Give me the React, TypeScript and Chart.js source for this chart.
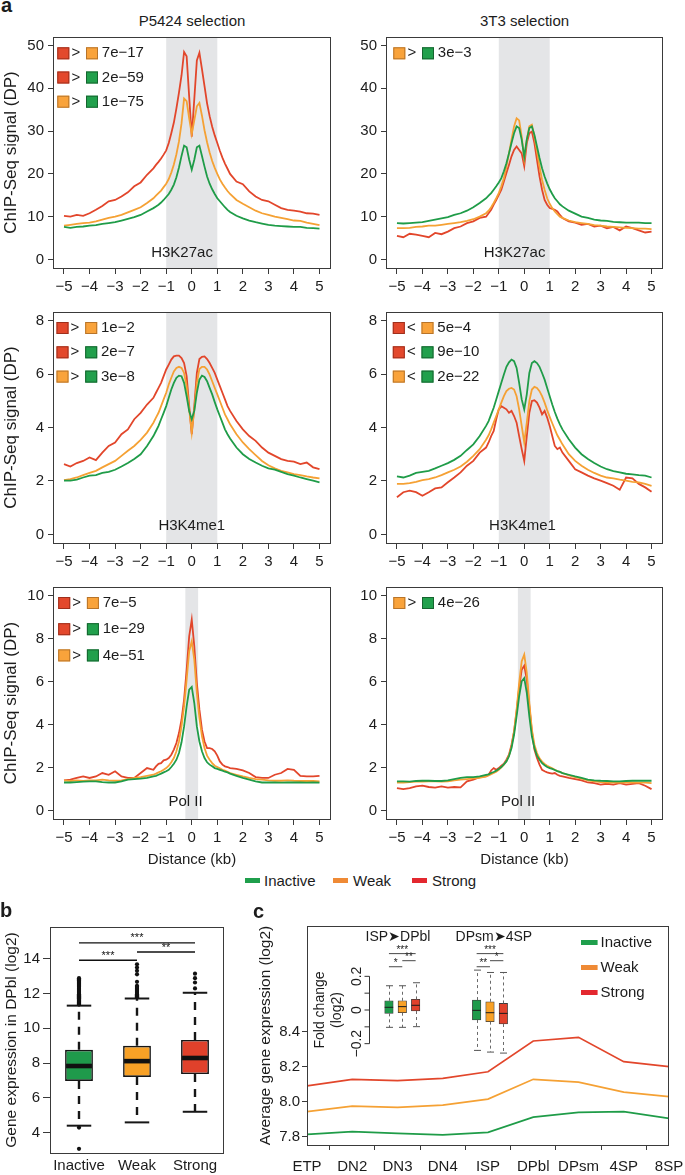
import React, { useEffect, useRef } from 'react';
import { Chart, registerables } from 'chart.js';

Chart.register(...registerables);

const FONT = '"Liberation Sans", Arial, Helvetica, sans-serif';
Chart.defaults.font.family = FONT;

const INK = '#1c1c1c';
const FRAME = '#3a3a3a';
const LINE_GREEN = '#1f9c48';
const LINE_ORANGE = '#f5a134';
const LINE_RED = '#e2462b';
const BAND_GREY = '#e4e5e7';
const KEY_GREEN = '#1f9f4c';
const KEY_ORANGE = '#ef8a35';
const KEY_RED = '#e3282f';
const BOX_FILL = ['#1f9a4b', '#f8a126', '#e0412b'];
const SQ_FILL: any = { Inactive: '#21a04c', Weak: '#f9a33b', Strong: '#e3482c' };
const SQ_EDGE: any = { Inactive: '#16642f', Weak: '#b7742a', Strong: '#9e2f1c' };

// ================= a : ChIP-Seq profiles =================
const KB = [
  -5, -4.75, -4.5, -4.25, -4, -3.75, -3.5, -3.25, -3, -2.75, -2.5, -2.25, -2, -1.75, -1.5,
  -1.4, -1.3, -1.2, -1.1, -1, -0.9, -0.8, -0.7, -0.6, -0.5, -0.4, -0.3, -0.2, -0.1, 0, 0.1, 0.2, 0.3, 0.4, 0.5, 0.6, 0.7, 0.8, 0.9, 1, 1.1, 1.2, 1.3, 1.4,
  1.5, 1.75, 2, 2.25, 2.5, 2.75, 3, 3.25, 3.5, 3.75, 4, 4.25, 4.5, 4.75, 5,
];
const KB_TICKS = [-5, -4, -3, -2, -1, 0, 1, 2, 3, 4, 5];
const K27_TICKS = [0, 10, 20, 30, 40, 50];
const K4_TICKS = [0, 2, 4, 6, 8];
const POL_TICKS = [0, 2, 4, 6, 8, 10];
const CLASSES = ['Inactive', 'Weak', 'Strong'];

// P5424 selection, H3K27ac
const A1_INACTIVE = [
  7.6, 7.4, 7.6, 7.7, 7.9, 8.0, 8.3, 8.5, 8.7, 9.1, 9.5, 9.9, 10.4, 11.2, 12.0,
  12.4, 12.8, 13.3, 13.9, 14.6, 15.3, 16.3, 17.5, 19.2, 21.5, 24.2, 26.6, 26.2, 23.3, 21.0, 23.3, 26.2, 26.6, 24.2, 21.7, 19.4, 17.7, 16.4, 15.3, 14.3, 13.6, 12.9, 12.2, 11.6,
  11.1, 10.2, 9.6, 9.1, 8.7, 8.4, 8.1, 7.9, 7.8, 7.7, 7.6, 7.6, 7.4, 7.3, 7.2,
];
const A1_WEAK = [
  7.9, 8.1, 8.3, 8.5, 8.6, 8.9, 9.3, 9.7, 10.0, 10.4, 11.0, 11.6, 12.2, 13.2, 14.3,
  14.9, 15.5, 16.1, 16.9, 17.7, 18.8, 20.3, 22.2, 24.6, 27.6, 31.8, 37.6, 37.0, 33.0, 29.3, 32.5, 35.8, 36.6, 33.6, 30.2, 27.4, 25.0, 23.0, 21.4, 20.0, 18.7, 17.7, 16.8, 16.0,
  15.3, 13.9, 13.0, 12.2, 11.4, 10.8, 10.4, 10.0, 9.7, 9.4, 9.1, 9.0, 8.6, 8.3, 8.0,
];
const A1_STRONG = [
  10.2, 10.0, 10.4, 10.2, 10.8, 11.6, 12.5, 13.6, 13.9, 14.7, 15.7, 17.1, 18.0, 19.8, 21.3,
  22.1, 22.8, 23.6, 24.5, 25.5, 27.2, 29.5, 32.0, 35.3, 39.0, 43.0, 48.5, 47.5, 38.0, 28.7, 37.5, 46.5, 48.3, 44.5, 40.5, 36.5, 33.5, 31.0, 29.0, 27.2, 25.4, 23.8, 22.4, 21.2,
  20.0, 18.2, 17.6, 15.9, 14.7, 13.9, 13.6, 12.8, 12.0, 11.6, 11.4, 11.2, 10.8, 10.7, 10.4,
];
// 3T3 selection, H3K27ac
const A2_INACTIVE = [
  8.5, 8.4, 8.5, 8.6, 8.7, 9.0, 9.3, 9.6, 9.9, 10.4, 10.8, 11.4, 12.2, 13.2, 14.3,
  14.9, 15.5, 16.3, 17.1, 18.0, 19.0, 20.6, 22.5, 24.8, 27.2, 29.5, 31.1, 30.7, 28.0, 24.0, 28.0, 30.7, 31.1, 29.1, 26.4, 23.7, 21.3, 19.4, 17.8, 16.4, 15.3, 14.3, 13.6, 12.9,
  12.4, 11.4, 10.7, 10.0, 9.7, 9.3, 9.1, 9.0, 8.8, 8.7, 8.6, 8.6, 8.6, 8.5, 8.5,
];
const A2_WEAK = [
  7.3, 7.3, 7.4, 7.6, 7.7, 7.9, 7.9, 8.1, 8.3, 8.5, 8.7, 9.0, 9.4, 10.0, 10.8,
  11.4, 12.2, 13.2, 14.3, 15.5, 17.1, 19.0, 21.7, 24.8, 28.0, 31.1, 33.0, 32.5, 28.7, 23.5, 28.0, 31.1, 31.5, 28.7, 25.2, 21.7, 18.6, 16.3, 14.3, 13.0, 12.0, 11.2, 10.6, 10.0,
  9.7, 9.1, 8.7, 8.5, 8.3, 8.0, 7.9, 7.7, 7.6, 7.5, 7.4, 7.3, 7.2, 7.2, 7.1,
];
const A2_STRONG = [
  5.5, 5.2, 6.0, 5.8, 5.5, 5.2, 6.2, 5.9, 6.5, 7.3, 7.7, 8.5, 8.9, 9.7, 10.0,
  10.8, 11.6, 12.8, 13.9, 15.1, 16.3, 18.2, 20.2, 22.1, 24.1, 25.6, 26.4, 25.6, 24.8, 21.8, 27.2, 29.5, 29.9, 27.2, 23.3, 19.4, 16.3, 13.9, 12.8, 12.0, 11.8, 11.6, 11.2, 10.4,
  9.7, 8.9, 8.6, 8.1, 8.3, 7.7, 7.9, 7.3, 7.6, 6.8, 7.7, 7.3, 6.8, 6.3, 6.5,
];
// P5424 selection, H3K4me1
const A3_INACTIVE = [
  2.01, 2.01, 2.05, 2.13, 2.2, 2.22, 2.3, 2.34, 2.42, 2.54, 2.67, 2.82, 3.0, 3.31, 3.68,
  3.87, 4.06, 4.31, 4.55, 4.8, 5.11, 5.42, 5.67, 5.86, 5.94, 5.92, 5.67, 5.17, 4.62, 4.31, 4.62, 5.3, 5.79, 5.94, 5.89, 5.73, 5.48, 5.24, 4.95, 4.68, 4.43, 4.18, 3.93, 3.75,
  3.59, 3.25, 3.0, 2.82, 2.69, 2.57, 2.47, 2.42, 2.34, 2.26, 2.2, 2.13, 2.07, 2.01, 1.95,
];
const A3_WEAK = [
  2.03, 2.07, 2.13, 2.22, 2.3, 2.38, 2.51, 2.63, 2.75, 2.94, 3.13, 3.31, 3.54, 3.81, 4.18,
  4.37, 4.55, 4.8, 5.05, 5.3, 5.61, 5.86, 6.1, 6.23, 6.27, 6.23, 6.04, 5.55, 4.68, 3.81, 4.68, 5.67, 6.19, 6.27, 6.27, 6.17, 5.98, 5.73, 5.48, 5.24, 4.99, 4.74, 4.49, 4.31,
  4.12, 3.75, 3.44, 3.19, 2.97, 2.75, 2.59, 2.47, 2.38, 2.32, 2.26, 2.22, 2.17, 2.13, 2.1,
];
const A3_STRONG = [
  2.63, 2.54, 2.67, 2.75, 2.88, 2.78, 3.06, 3.31, 3.44, 3.75, 3.93, 4.31, 4.55, 4.86, 5.11,
  5.3, 5.48, 5.67, 5.92, 6.17, 6.35, 6.54, 6.66, 6.69, 6.69, 6.6, 6.41, 5.92, 4.8, 3.75, 4.8, 6.04, 6.56, 6.64, 6.66, 6.56, 6.41, 6.23, 6.04, 5.79, 5.55, 5.3, 5.05, 4.8,
  4.62, 4.24, 3.93, 3.68, 3.5, 3.25, 3.06, 2.94, 2.82, 2.75, 2.72, 2.63, 2.69, 2.51, 2.44,
];
// 3T3 selection, H3K4me1
const A4_INACTIVE = [
  2.17, 2.13, 2.2, 2.3, 2.34, 2.38, 2.47, 2.57, 2.67, 2.79, 2.94, 3.16, 3.37, 3.68, 4.06,
  4.24, 4.49, 4.74, 5.05, 5.36, 5.67, 5.98, 6.27, 6.44, 6.54, 6.48, 6.23, 5.67, 5.05, 4.68, 5.24, 6.04, 6.41, 6.48, 6.41, 6.27, 6.04, 5.79, 5.48, 5.17, 4.86, 4.58, 4.33, 4.12,
  3.93, 3.56, 3.25, 3.0, 2.82, 2.67, 2.54, 2.44, 2.37, 2.32, 2.27, 2.25, 2.22, 2.2, 2.13,
];
const A4_WEAK = [
  1.89, 1.89, 1.92, 1.97, 2.03, 2.07, 2.13, 2.22, 2.32, 2.42, 2.54, 2.72, 2.94, 3.19, 3.54,
  3.71, 3.93, 4.18, 4.43, 4.68, 4.93, 5.17, 5.36, 5.45, 5.48, 5.42, 5.17, 4.68, 4.06, 3.44, 4.18, 4.99, 5.42, 5.52, 5.48, 5.36, 5.17, 4.93, 4.65, 4.4, 4.16, 3.93, 3.71, 3.54,
  3.37, 3.0, 2.75, 2.57, 2.42, 2.3, 2.2, 2.13, 2.1, 2.05, 2.01, 1.97, 1.95, 1.89, 1.82,
];
const A4_STRONG = [
  1.39, 1.58, 1.64, 1.58, 1.45, 1.58, 1.72, 1.76, 1.95, 2.13, 2.32, 2.57, 2.75, 3.06, 3.25,
  3.44, 3.68, 3.87, 4.31, 4.68, 4.8, 4.74, 4.68, 4.55, 4.62, 4.43, 4.18, 3.68, 3.19, 2.75, 3.68, 4.55, 4.99, 5.02, 4.93, 4.74, 4.49, 4.62, 4.37, 4.06, 3.68, 3.31, 3.19, 3.25,
  3.06, 2.75, 2.44, 2.32, 2.2, 2.1, 2.01, 1.92, 1.82, 1.67, 2.13, 2.1, 1.89, 1.76, 1.6,
];
// P5424 selection, Pol II
const A5_INACTIVE = [
  1.3, 1.3, 1.32, 1.34, 1.35, 1.35, 1.32, 1.3, 1.3, 1.35, 1.43, 1.46, 1.48, 1.51, 1.58,
  1.61, 1.66, 1.71, 1.77, 1.82, 1.89, 2.02, 2.17, 2.36, 2.67, 3.17, 3.91, 4.84, 5.62, 5.75, 5.0, 3.91, 3.21, 2.75, 2.44, 2.24, 2.13, 2.05, 1.97, 1.93, 1.89, 1.85, 1.8, 1.77,
  1.71, 1.61, 1.51, 1.43, 1.35, 1.3, 1.3, 1.3, 1.29, 1.3, 1.3, 1.3, 1.29, 1.3, 1.29,
];
const A5_WEAK = [
  1.4, 1.37, 1.4, 1.37, 1.4, 1.4, 1.43, 1.4, 1.38, 1.4, 1.46, 1.51, 1.55, 1.61, 1.66,
  1.71, 1.77, 1.82, 1.89, 1.97, 2.08, 2.24, 2.44, 2.75, 3.21, 3.91, 4.84, 6.09, 7.41, 7.87, 7.02, 5.47, 4.3, 3.45, 2.9, 2.55, 2.36, 2.2, 2.08, 2.02, 1.96, 1.89, 1.85, 1.8,
  1.74, 1.66, 1.58, 1.51, 1.46, 1.43, 1.4, 1.38, 1.38, 1.4, 1.38, 1.37, 1.37, 1.37, 1.35,
];
const A5_STRONG = [
  1.4, 1.43, 1.51, 1.58, 1.51, 1.58, 1.74, 1.66, 1.82, 1.58, 1.51, 1.51, 1.74, 1.97, 1.89,
  2.05, 2.17, 2.2, 2.33, 2.36, 2.44, 2.59, 2.83, 3.14, 3.6, 4.22, 5.16, 6.55, 8.1, 8.88, 7.64, 5.93, 4.69, 3.76, 3.21, 2.9, 2.9, 2.86, 2.75, 2.55, 2.28, 2.13, 2.05, 2.02,
  1.97, 1.93, 1.86, 1.74, 1.55, 1.51, 1.51, 1.66, 1.74, 1.93, 1.89, 1.61, 1.58, 1.58, 1.61,
];
// 3T3 selection, Pol II
const A6_INACTIVE = [
  1.35, 1.35, 1.34, 1.37, 1.38, 1.38, 1.37, 1.37, 1.4, 1.46, 1.51, 1.55, 1.55, 1.58, 1.65,
  1.68, 1.74, 1.79, 1.85, 1.93, 2.02, 2.14, 2.28, 2.52, 2.9, 3.52, 4.38, 5.31, 6.01, 6.16, 5.47, 4.38, 3.45, 2.9, 2.55, 2.36, 2.2, 2.1, 2.02, 1.97, 1.93, 1.88, 1.83, 1.79,
  1.74, 1.66, 1.58, 1.51, 1.43, 1.4, 1.38, 1.37, 1.35, 1.35, 1.37, 1.38, 1.38, 1.38, 1.38,
];
const A6_WEAK = [
  1.3, 1.3, 1.32, 1.34, 1.34, 1.35, 1.35, 1.34, 1.35, 1.4, 1.43, 1.46, 1.49, 1.52, 1.58,
  1.63, 1.69, 1.74, 1.8, 1.89, 2.0, 2.13, 2.3, 2.55, 2.98, 3.68, 4.69, 5.93, 6.94, 7.25, 6.4, 5.0, 3.76, 3.06, 2.67, 2.42, 2.27, 2.16, 2.08, 2.02, 1.96, 1.89, 1.83, 1.79,
  1.74, 1.63, 1.55, 1.48, 1.4, 1.35, 1.32, 1.3, 1.3, 1.3, 1.3, 1.3, 1.29, 1.29, 1.27,
];
const A6_STRONG = [
  1.04, 0.99, 1.04, 1.12, 1.15, 1.09, 1.06, 1.12, 1.06, 1.09, 1.07, 1.35, 1.43, 1.55, 1.58,
  1.66, 1.86, 1.97, 1.89, 1.97, 2.08, 2.17, 2.36, 2.59, 3.06, 3.68, 4.61, 5.7, 6.55, 6.74, 6.09, 4.84, 3.68, 2.83, 2.44, 2.13, 1.89, 1.82, 1.77, 1.74, 1.71, 1.74, 1.66, 1.61,
  1.58, 1.51, 1.46, 1.4, 1.3, 1.27, 1.2, 1.24, 1.2, 1.27, 1.2, 1.24, 1.27, 1.15, 0.99,
];

const A1_TESTS = [['Strong', '>', 'Weak', '7e\u221217'], ['Strong', '>', 'Inactive', '2e\u221259'], ['Weak', '>', 'Inactive', '1e\u221275']];
const A2_TESTS = [['Weak', '>', 'Inactive', '3e\u22123']];
const A3_TESTS = [['Strong', '>', 'Weak', '1e\u22122'], ['Strong', '>', 'Inactive', '2e\u22127'], ['Weak', '>', 'Inactive', '3e\u22128']];
const A4_TESTS = [['Strong', '<', 'Weak', '5e\u22124'], ['Strong', '<', 'Inactive', '9e\u221210'], ['Weak', '<', 'Inactive', '2e\u221222']];
const A5_TESTS = [['Strong', '>', 'Weak', '7e\u22125'], ['Strong', '>', 'Inactive', '1e\u221229'], ['Weak', '>', 'Inactive', '4e\u221251']];
const A6_TESTS = [['Weak', '>', 'Inactive', '4e\u221226']];

// ================= b : expression box plot =================
const B_CATS = ['Inactive', 'Weak', 'Strong'];
const B_LO = [4.4, 4.59, 5.2];
const B_Q1 = [6.97, 7.2, 7.37];
const B_MED = [7.83, 8.11, 8.29];
const B_Q3 = [8.76, 8.99, 9.33];
const B_HI = [11.3, 11.71, 12.04];
const B_TICKS = [4, 6, 8, 10, 12, 14];
const B_OUT_INACTIVE = [11.36, 11.42, 11.48, 11.54, 11.6, 11.66, 11.72, 11.78, 11.84, 11.9, 11.96, 12.02, 12.08, 12.14, 12.2, 12.26, 12.32, 12.38, 12.44, 12.5, 12.56, 12.62, 12.68, 12.74, 12.8, 12.88, 4.29, 3.07];
const B_OUT_WEAK = [11.78, 11.84, 11.9, 11.96, 12.02, 12.08, 12.14, 12.2, 12.26, 12.32, 12.38, 12.44, 12.67, 13.1, 13.3, 13.49, 13.68];
const B_OUT_STRONG = [12.29, 12.63, 12.88, 13.14];
const B_SIG_FROM = [0, 0, 1];
const B_SIG_TO = [2, 1, 2];
const B_SIG_Y = [14.91, 13.91, 14.38];
const B_SIG_LABEL = ['***', '***', '**'];

// ================= c : expression across stages =================
const C_STAGES = ['ETP', 'DN2', 'DN3', 'DN4', 'ISP', 'DPbl', 'DPsm', '4SP', '8SP'];
const C_INACTIVE = [7.813, 7.829, 7.819, 7.81, 7.825, 7.912, 7.939, 7.943, 7.905];
const C_WEAK = [7.943, 7.975, 7.968, 7.981, 8.015, 8.128, 8.112, 8.055, 8.029];
const C_STRONG = [8.09, 8.128, 8.12, 8.133, 8.171, 8.347, 8.368, 8.229, 8.2];
const C_TICKS = [7.8, 8.0, 8.2, 8.4];

// inset: fold change, boxes in order [Inactive, Weak, Strong] x 2 transitions
const INSET_GROUPS = ['ISP\u27A4DPbl', 'DPsm\u27A44SP'];
const INSET_AT = [2.106, 4.044];
const INSET_STEP = 0.295;
const INSET_TITLE_AT = [2.011, 4.13];
const INSET_AXIS_AT = 1.37;
const INSET_LO = [-0.103, -0.103, -0.099, -0.24, -0.25, -0.256];
const INSET_Q1 = [-0.02, -0.016, -0.006, -0.059, -0.069, -0.083];
const INSET_MED = [0.016, 0.02, 0.028, -0.002, -0.016, -0.02];
const INSET_Q3 = [0.055, 0.055, 0.063, 0.059, 0.049, 0.039];
const INSET_HI = [0.144, 0.144, 0.162, 0.237, 0.223, 0.223];
const INSET_TICKS = [-0.2, -0.1, 0, 0.1, 0.2];
const INSET_TICK_LABELS = [0.2, 0, -0.2];
const INSET_SIG_GROUP = [0, 0, 0, 1, 1, 1];
const INSET_SIG_FROM = [0, 1, 0, 0, 1, 0];
const INSET_SIG_TO = [1, 2, 2, 1, 2, 2];
const INSET_SIG_Y = [0.257, 0.293, 0.335, 0.257, 0.293, 0.335];
const INSET_SIG_LABEL = ['*', '**', '***', '**', '*', '***'];

// ---------------------------------------------------------------
const signed = (v: number) => (v < 0 ? '\u2212' + Math.abs(v) : String(v));

function seg(ctx: any, x1: number, y1: number, x2: number, y2: number) {
  ctx.beginPath();
  ctx.moveTo(x1, y1);
  ctx.lineTo(x2, y2);
  ctx.stroke();
}

function frame(ctx: any, a: any) {
  ctx.save();
  ctx.strokeStyle = FRAME;
  ctx.lineWidth = 1;
  ctx.setLineDash([]);
  ctx.strokeRect(a.left + 0.5, a.top + 0.5, a.right - a.left - 1, a.bottom - a.top);
  ctx.restore();
}

function keySquare(ctx: any, x: number, cy: number, cls: string) {
  ctx.fillStyle = SQ_FILL[cls];
  ctx.fillRect(x, cy - 6, 12, 12);
  ctx.strokeStyle = SQ_EDGE[cls];
  ctx.lineWidth = 1;
  ctx.strokeRect(x + 0.5, cy - 5.5, 11, 11);
}

type Spec = any;

const PROFILE_SPECS: Spec[] = [
  { cx: 0, cy: 30, cw: 340, ch: 270, l: 53, t: 37, r: 331, b: 268, yMin: -2, yMax: 52, yTicks: K27_TICKS, yTitle: 'ChIP-Seq signal (DP)', xTitle: '', band: 1, mark: 'H3K27ac', markX: -0.38, markY: 1.6, series: [A1_INACTIVE, A1_WEAK, A1_STRONG], tests: A1_TESTS, legDx: 4.3, legDy: 16.3, legGap: 24.2 },
  { cx: 340, cy: 30, cw: 345, ch: 270, l: 386, t: 37, r: 663, b: 268, yMin: -2, yMax: 52, yTicks: K27_TICKS, yTitle: '', xTitle: '', band: 1, mark: 'H3K27ac', markX: -0.38, markY: 1.5, series: [A2_INACTIVE, A2_WEAK, A2_STRONG], tests: A2_TESTS, legDx: 7.3, legDy: 16.3, legGap: 24.2 },
  { cx: 0, cy: 305, cw: 340, ch: 270, l: 53, t: 312, r: 331, b: 543, yMin: -0.32, yMax: 8.32, yTicks: K4_TICKS, yTitle: 'ChIP-Seq signal (DP)', xTitle: '', band: 1, mark: 'H3K4me1', markX: 0, markY: 0.31, series: [A3_INACTIVE, A3_WEAK, A3_STRONG], tests: A3_TESTS, legDx: 3.5, legDy: 16, legGap: 24.3 },
  { cx: 340, cy: 305, cw: 345, ch: 270, l: 386, t: 312, r: 663, b: 543, yMin: -0.32, yMax: 8.32, yTicks: K4_TICKS, yTitle: '', xTitle: '', band: 1, mark: 'H3K4me1', markX: -0.07, markY: 0.31, series: [A4_INACTIVE, A4_WEAK, A4_STRONG], tests: A4_TESTS, legDx: 6.8, legDy: 16, legGap: 24.3 },
  { cx: 0, cy: 580, cw: 340, ch: 292, l: 53, t: 587, r: 331, b: 819, yMin: -0.4, yMax: 10.4, yTicks: POL_TICKS, yTitle: 'ChIP-Seq signal (DP)', xTitle: 'Distance (kb)', band: 0.25, mark: 'Pol II', markX: -0.24, markY: 0.39, series: [A5_INACTIVE, A5_WEAK, A5_STRONG], tests: A5_TESTS, legDx: 5.2, legDy: 16, legGap: 26.2 },
  { cx: 340, cy: 580, cw: 345, ch: 292, l: 386, t: 587, r: 663, b: 819, yMin: -0.4, yMax: 10.4, yTicks: POL_TICKS, yTitle: '', xTitle: 'Distance (kb)', band: 0.25, mark: 'Pol II', markX: -0.24, markY: 0.39, series: [A6_INACTIVE, A6_WEAK, A6_STRONG], tests: A6_TESTS, legDx: 7.3, legDy: 16, legGap: 26.2 },
];

function profileDeco(s: Spec) {
  return {
    id: 'profileDeco',
    beforeDatasetsDraw(chart: any) {
      const { ctx, chartArea: a, scales } = chart;
      const x0 = scales.x.getPixelForValue(-s.band);
      const x1 = scales.x.getPixelForValue(s.band);
      ctx.save();
      ctx.fillStyle = BAND_GREY;
      ctx.fillRect(x0, a.top, x1 - x0, a.bottom - a.top);
      ctx.restore();
    },
    afterDatasetsDraw(chart: any) {
      const { ctx, chartArea: a, scales } = chart;
      ctx.save();
      ctx.font = `15px ${FONT}`;
      ctx.fillStyle = INK;
      ctx.textAlign = 'center';
      ctx.textBaseline = 'middle';
      ctx.fillText(s.mark, scales.x.getPixelForValue(s.markX), scales.y.getPixelForValue(s.markY));
      s.tests.forEach((t: string[], i: number) => {
        const cy = a.top + s.legDy + i * s.legGap;
        const sx = a.left + s.legDx;
        keySquare(ctx, sx, cy, t[0]);
        ctx.fillStyle = INK;
        ctx.textAlign = 'center';
        ctx.fillText(t[1], sx + 18.5, cy);
        keySquare(ctx, sx + 28.7, cy, t[2]);
        ctx.fillStyle = INK;
        ctx.textAlign = 'left';
        ctx.fillText(t[3], sx + 44.5, cy);
      });
      ctx.restore();
      frame(ctx, a);
    },
  };
}

function buildProfile(s: Spec): any {
  const colors = [LINE_GREEN, LINE_ORANGE, LINE_RED];
  const font = { family: FONT, size: 15 };
  const titleFont = { family: FONT, size: 17 };
  return {
    type: 'line',
    data: {
      datasets: s.series.map((vals: number[], k: number) => ({
        label: CLASSES[k],
        data: KB.map((x, i) => ({ x, y: vals[i] })),
        borderColor: colors[k],
        borderWidth: 1.8,
        pointRadius: 0,
        tension: 0,
        fill: false,
      })),
    },
    options: {
      animation: false,
      responsive: false,
      devicePixelRatio: 1,
      layout: { padding: { left: 0, top: s.t - s.cy, right: s.cx + s.cw - s.r, bottom: 0 } },
      plugins: { legend: { display: false }, tooltip: { enabled: false } },
      scales: {
        x: {
          type: 'linear',
          min: -5.43,
          max: 5.45,
          afterBuildTicks: (ax: any) => { ax.ticks = KB_TICKS.map((v) => ({ value: v })); },
          afterFit: (ax: any) => { ax.height = s.cy + s.ch - s.b; ax.paddingLeft = 0; ax.paddingRight = 0; },
          grid: { drawOnChartArea: false, drawTicks: true, tickLength: 6, color: FRAME, lineWidth: 1 },
          border: { display: false },
          ticks: { color: INK, font, padding: 4, maxRotation: 0, autoSkip: false, callback: (v: number) => signed(v) },
          title: { display: !!s.xTitle, text: s.xTitle, color: INK, font, padding: { top: 0, bottom: 3 } },
        },
        y: {
          type: 'linear',
          min: s.yMin,
          max: s.yMax,
          afterBuildTicks: (ax: any) => { ax.ticks = s.yTicks.map((v: number) => ({ value: v })); },
          afterFit: (ax: any) => { ax.width = s.l - s.cx; ax.paddingTop = 0; ax.paddingBottom = 0; },
          grid: { drawOnChartArea: false, drawTicks: true, tickLength: 5, color: FRAME, lineWidth: 1 },
          border: { display: false },
          ticks: { color: INK, font, padding: 4, callback: (v: number) => String(v) },
          title: { display: !!s.yTitle, text: s.yTitle, color: INK, font: titleFont, padding: { top: 1, bottom: 0 } },
        },
      },
    },
    plugins: [profileDeco(s)],
  };
}

// ---------------- b ----------------
const boxDeco = {
  id: 'boxDeco',
  beforeDatasetsDraw(chart: any) {
    const { ctx, scales } = chart;
    const y = scales.y;
    const meta = chart.getDatasetMeta(0);
    ctx.save();
    ctx.strokeStyle = '#161616';
    B_CATS.forEach((_, i) => {
      const bar = meta.data[i];
      const cx = bar.x;
      const cap = bar.width * 0.44;
      ctx.lineWidth = 2.4;
      ctx.setLineDash([8, 7]);
      seg(ctx, cx, y.getPixelForValue(B_Q3[i]), cx, y.getPixelForValue(B_HI[i]));
      seg(ctx, cx, y.getPixelForValue(B_Q1[i]), cx, y.getPixelForValue(B_LO[i]));
      ctx.setLineDash([]);
      ctx.lineWidth = 2;
      seg(ctx, cx - cap, y.getPixelForValue(B_HI[i]), cx + cap, y.getPixelForValue(B_HI[i]));
      seg(ctx, cx - cap, y.getPixelForValue(B_LO[i]), cx + cap, y.getPixelForValue(B_LO[i]));
    });
    ctx.restore();
  },
  afterDatasetsDraw(chart: any) {
    const { ctx, chartArea: a, scales } = chart;
    const { x, y } = scales;
    const meta = chart.getDatasetMeta(0);
    ctx.save();
    ctx.strokeStyle = '#111';
    ctx.lineWidth = 4.6;
    B_CATS.forEach((_, i) => {
      const bar = meta.data[i];
      const py = y.getPixelForValue(B_MED[i]);
      seg(ctx, bar.x - bar.width / 2 + 1, py, bar.x + bar.width / 2 - 1, py);
    });
    ctx.lineWidth = 1.4;
    ctx.font = `11px ${FONT}`;
    ctx.fillStyle = '#111';
    ctx.textAlign = 'center';
    ctx.textBaseline = 'alphabetic';
    B_SIG_Y.forEach((v, k) => {
      const x1 = x.getPixelForValue(B_SIG_FROM[k]);
      const x2 = x.getPixelForValue(B_SIG_TO[k]);
      const py = y.getPixelForValue(v);
      seg(ctx, x1, py, x2, py);
      ctx.fillText(B_SIG_LABEL[k], (x1 + x2) / 2, py - 1.5);
    });
    ctx.restore();
    frame(ctx, a);
  },
};

function buildBox(): any {
  const font = { family: FONT, size: 15 };
  const titleFont = { family: FONT, size: 15.5 };
  const outliers = [B_OUT_INACTIVE, B_OUT_WEAK, B_OUT_STRONG];
  const points: any[] = [];
  outliers.forEach((list, k) => list.forEach((v) => points.push({ x: B_CATS[k], y: v })));
  return {
    type: 'bar',
    data: {
      labels: B_CATS,
      datasets: [
        {
          label: 'IQR',
          data: B_CATS.map((_, i) => [B_Q1[i], B_Q3[i]]),
          backgroundColor: BOX_FILL,
          borderColor: '#161616',
          borderWidth: 1.6,
          borderSkipped: false,
          barPercentage: 0.48,
          categoryPercentage: 1,
        },
        {
          type: 'scatter',
          label: 'outliers',
          data: points,
          pointRadius: 2.1,
          pointBackgroundColor: '#111',
          pointBorderWidth: 0,
        },
      ],
    },
    options: {
      animation: false,
      responsive: false,
      devicePixelRatio: 1,
      layout: { padding: { left: 0, top: 9, right: 16, bottom: 0 } },
      plugins: { legend: { display: false }, tooltip: { enabled: false } },
      scales: {
        x: {
          type: 'category',
          offset: true,
          afterFit: (ax: any) => { ax.height = 22; ax.paddingLeft = 0; ax.paddingRight = 0; },
          grid: { display: false, drawTicks: false },
          border: { display: false },
          ticks: { color: INK, font, padding: 4, maxRotation: 0, autoSkip: false },
        },
        y: {
          type: 'linear',
          min: 2.83,
          max: 15.82,
          afterBuildTicks: (ax: any) => { ax.ticks = B_TICKS.map((v) => ({ value: v })); },
          afterFit: (ax: any) => { ax.width = 50; ax.paddingTop = 0; ax.paddingBottom = 0; },
          grid: { drawOnChartArea: false, drawTicks: true, tickLength: 7, color: FRAME, lineWidth: 1 },
          border: { display: false },
          ticks: { color: INK, font, padding: 3, callback: (v: number) => String(v) },
          title: { display: true, text: 'Gene expression in DPbl (log2)', color: INK, font: titleFont, padding: { top: 2, bottom: 0 } },
        },
      },
    },
    plugins: [boxDeco],
  };
}

// ---------------- c ----------------
const trendDeco = {
  id: 'trendDeco',
  afterDatasetsDraw(chart: any) {
    const { ctx, chartArea: a, scales } = chart;
    const x = scales.x;
    const yi = scales.yIn;
    const meta = chart.getDatasetMeta(3);
    ctx.save();
    // inset axis
    const ax = Math.round(x.getPixelForValue(INSET_AXIS_AT)) + 0.5;
    ctx.strokeStyle = '#333';
    ctx.lineWidth = 1;
    seg(ctx, ax, yi.getPixelForValue(0.2), ax, yi.getPixelForValue(-0.2));
    INSET_TICKS.forEach((v) => seg(ctx, ax - 5, yi.getPixelForValue(v), ax, yi.getPixelForValue(v)));
    ctx.fillStyle = INK;
    ctx.font = `14px ${FONT}`;
    ctx.textAlign = 'center';
    ctx.textBaseline = 'middle';
    INSET_TICK_LABELS.forEach((v) => {
      ctx.save();
      ctx.translate(ax - 12, yi.getPixelForValue(v));
      ctx.rotate(-Math.PI / 2);
      ctx.fillText(signed(v), 0, 0);
      ctx.restore();
    });
    [['Fold change', -49], ['(log2)', -32]].forEach(([txt, dx]: any) => {
      ctx.save();
      ctx.translate(ax + dx, yi.getPixelForValue(0));
      ctx.rotate(-Math.PI / 2);
      ctx.fillText(txt, 0, 0);
      ctx.restore();
    });
    // whiskers, caps, medians
    INSET_LO.forEach((_, i) => {
      const bar = meta.data[i];
      const cx = Math.round(bar.x) + 0.5;
      ctx.strokeStyle = '#6a6a6a';
      ctx.lineWidth = 1;
      ctx.setLineDash([3, 3]);
      seg(ctx, cx, yi.getPixelForValue(INSET_Q3[i]), cx, yi.getPixelForValue(INSET_HI[i]));
      seg(ctx, cx, yi.getPixelForValue(INSET_Q1[i]), cx, yi.getPixelForValue(INSET_LO[i]));
      ctx.setLineDash([]);
      ctx.strokeStyle = '#555';
      seg(ctx, cx - 3.5, yi.getPixelForValue(INSET_HI[i]), cx + 3.5, yi.getPixelForValue(INSET_HI[i]));
      seg(ctx, cx - 3.5, yi.getPixelForValue(INSET_LO[i]), cx + 3.5, yi.getPixelForValue(INSET_LO[i]));
      ctx.strokeStyle = '#1a1a1a';
      const my = yi.getPixelForValue(INSET_MED[i]);
      seg(ctx, bar.x - bar.width / 2, my, bar.x + bar.width / 2, my);
    });
    // significance
    ctx.strokeStyle = '#333';
    ctx.lineWidth = 0.9;
    ctx.font = `10px ${FONT}`;
    ctx.fillStyle = '#222';
    ctx.textBaseline = 'alphabetic';
    INSET_SIG_Y.forEach((v, k) => {
      const g = INSET_SIG_GROUP[k];
      const x1 = x.getPixelForValue(INSET_AT[g] + (INSET_SIG_FROM[k] - 1) * INSET_STEP);
      const x2 = x.getPixelForValue(INSET_AT[g] + (INSET_SIG_TO[k] - 1) * INSET_STEP);
      const py = yi.getPixelForValue(v);
      seg(ctx, x1, py, x2, py);
      ctx.fillText(INSET_SIG_LABEL[k], (x1 + x2) / 2, py - 1);
    });
    // transition labels
    ctx.font = `14px ${FONT}`;
    ctx.fillStyle = INK;
    ctx.textBaseline = 'middle';
    INSET_GROUPS.forEach((g, k) => ctx.fillText(g, x.getPixelForValue(INSET_TITLE_AT[k]), yi.getPixelForValue(0.434)));
    // legend
    const keyCols = [KEY_GREEN, KEY_ORANGE, KEY_RED];
    ctx.font = `15px ${FONT}`;
    ctx.textAlign = 'left';
    CLASSES.forEach((name, k) => {
      const ly = a.top + 16.5 + k * 25;
      const lx = a.right - 88;
      ctx.strokeStyle = keyCols[k];
      ctx.lineWidth = 5;
      seg(ctx, lx, ly, lx + 16.6, ly);
      ctx.fillStyle = INK;
      ctx.fillText(name, lx + 19.5, ly);
    });
    ctx.restore();
    frame(ctx, a);
  },
};

function buildTrend(): any {
  const font = { family: FONT, size: 15 };
  const titleFont = { family: FONT, size: 15.5 };
  const series = [C_INACTIVE, C_WEAK, C_STRONG];
  const colors = [LINE_GREEN, LINE_ORANGE, LINE_RED];
  const insetX = INSET_LO.map((_, i) => INSET_AT[Math.floor(i / 3)] + ((i % 3) - 1) * INSET_STEP);
  return {
    type: 'line',
    data: {
      datasets: [
        ...series.map((vals, k) => ({
          label: CLASSES[k],
          data: C_STAGES.map((_, i) => ({ x: i, y: vals[i] })),
          borderColor: colors[k],
          borderWidth: 1.7,
          pointRadius: 0,
          tension: 0,
          fill: false,
          yAxisID: 'y',
        })),
        {
          type: 'bar',
          label: 'Fold change',
          data: insetX.map((xv, i) => ({ x: xv, y: [INSET_Q1[i], INSET_Q3[i]] })),
          xAxisID: 'x',
          yAxisID: 'yIn',
          backgroundColor: insetX.map((_, i) => BOX_FILL[i % 3]),
          borderColor: '#3a3a3a',
          borderWidth: 0.8,
          borderSkipped: false,
          barThickness: 8.5,
        },
      ],
    },
    options: {
      animation: false,
      responsive: false,
      devicePixelRatio: 1,
      layout: { padding: { left: 0, top: 8, right: 16, bottom: 0 } },
      plugins: { legend: { display: false }, tooltip: { enabled: false } },
      scales: {
        x: {
          type: 'linear',
          min: 0,
          max: 8,
          offset: false,
          afterBuildTicks: (ax: any) => { ax.ticks = C_STAGES.map((_, i) => ({ value: i })); },
          afterFit: (ax: any) => { ax.height = 30; ax.paddingLeft = 0; ax.paddingRight = 0; },
          grid: { drawOnChartArea: false, drawTicks: true, tickLength: 5, color: FRAME, lineWidth: 1 },
          border: { display: false },
          ticks: { color: INK, font, padding: 8, maxRotation: 0, autoSkip: false, callback: (v: number) => C_STAGES[v] },
        },
        y: {
          type: 'linear',
          position: 'left',
          min: 7.7526,
          max: 9.004,
          afterBuildTicks: (ax: any) => { ax.ticks = C_TICKS.map((v) => ({ value: v })); },
          afterFit: (ax: any) => { ax.width = 52; ax.paddingTop = 0; ax.paddingBottom = 0; },
          grid: { drawOnChartArea: false, drawTicks: true, tickLength: 5, color: FRAME, lineWidth: 1 },
          border: { display: false },
          ticks: { color: INK, font, padding: 2, callback: (v: number) => v.toFixed(1) },
          title: { display: true, text: 'Average gene expression (log2)', color: INK, font: titleFont, padding: { top: 1, bottom: 0 } },
        },
        yIn: { type: 'linear', display: false, min: -0.8021, max: 0.4991 },
      },
    },
    plugins: [trendDeco],
  };
}

// ---------------------------------------------------------------
function ChartCanvas({ x, y, w, h, build }: { x: number; y: number; w: number; h: number; build: () => any }) {
  const ref = useRef<HTMLCanvasElement>(null);
  useEffect(() => {
    const chart = new Chart(ref.current as HTMLCanvasElement, build());
    return () => chart.destroy();
  }, []);
  return <canvas ref={ref} width={w} height={h} style={{ position: 'absolute', left: x, top: y, width: w, height: h }} />;
}

function Txt({ x, y, size = 15, bold = false, center = false, children }: any) {
  return (
    <div
      style={{
        position: 'absolute',
        left: x,
        top: y - 0.49 * size,
        fontSize: size,
        lineHeight: `${size}px`,
        fontWeight: bold ? 700 : 400,
        whiteSpace: 'nowrap',
        transform: center ? 'translateX(-50%)' : undefined,
      }}
    >
      {children}
    </div>
  );
}

function Dash({ x, y, color }: { x: number; y: number; color: string }) {
  return <div style={{ position: 'absolute', left: x, top: y - 2, width: 15, height: 4.5, background: color }} />;
}

export default function App() {
  return (
    <div style={{ position: 'absolute', left: 0, top: 0, width: 685, height: 1175, background: '#fff', fontFamily: FONT, color: INK, overflow: 'hidden' }}>
      {PROFILE_SPECS.map((s, i) => (
        <ChartCanvas key={i} x={s.cx} y={s.cy} w={s.cw} h={s.ch} build={() => buildProfile(s)} />
      ))}
      <ChartCanvas x={0} y={918} w={240} h={257} build={buildBox} />
      <ChartCanvas x={255} y={918} w={430} h={257} build={buildTrend} />

      <Txt x={1} y={4.3} size={20} bold>a</Txt>
      <Txt x={192} y={20.7} center>P5424 selection</Txt>
      <Txt x={524.5} y={20.7} center>3T3 selection</Txt>

      <Dash x={245} y={880} color={KEY_GREEN} />
      <Txt x={264} y={880}>Inactive</Txt>
      <Dash x={333} y={880} color={KEY_ORANGE} />
      <Txt x={353} y={880}>Weak</Txt>
      <Dash x={412} y={880} color={KEY_RED} />
      <Txt x={432} y={880}>Strong</Txt>

      <Txt x={0} y={909.8} size={20} bold>b</Txt>
      <Txt x={253} y={910.8} size={20} bold>c</Txt>
    </div>
  );
}
